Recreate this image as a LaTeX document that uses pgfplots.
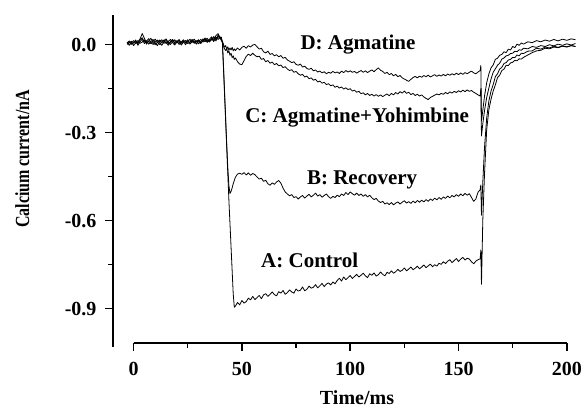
\documentclass[border=0pt]{standalone}
\usepackage{pgfplots}
\pgfplotsset{compat=1.18}
\usepackage{pgfplotstable}
\usepackage{graphicx}
\usepackage{fontspec}
\setmainfont{Liberation Serif}
\newcommand{\tickfont}{\fontsize{20}{24}\selectfont\bfseries}
\newcommand{\annfont}{\fontsize{21}{25}\selectfont\bfseries}

\pgfplotstableread{
t A B C D
-3 0.004 0.009 0.001 0.006
-2 0.010 -0.002 0.006 0.013
-1 0.001 0.007 0.012 0.003
0 0.006 0.014 -0.003 0.008
1 0.013 0.004 0.007 0.016
2 0.003 0.009 0.014 -0.002
3 0.016 0.020 0.005 0.010
4 0.024 0.038 0.009 0.019
5 0.009 0.022 0.017 0.004
6 0.014 0.005 0.002 0.012
7 0.002 0.013 0.013 0.021
8 0.010 0.003 0.022 0.008
9 0.018 0.011 0.008 0.001
10 0.006 0.019 0.000 0.010
11 -0.003 0.008 0.009 0.016
12 0.011 0.001 0.016 0.006
13 0.017 0.010 0.006 -0.002
14 0.005 0.016 0.014 0.009
15 0.009 0.004 0.020 0.015
16 -0.002 0.011 0.008 0.004
17 0.008 0.018 0.001 0.011
18 0.015 0.007 0.010 0.018
19 0.004 -0.001 0.017 0.007
20 0.009 0.010 0.006 0.014
21 0.018 0.015 0.011 0.001
22 0.006 0.005 -0.001 0.009
23 0.011 0.014 0.008 0.017
24 0.000 0.008 0.015 0.006
25 0.013 0.017 0.004 0.010
26 0.007 0.002 0.009 0.019
27 0.016 0.010 0.018 0.008
28 0.005 0.019 0.007 0.013
29 0.010 0.009 0.014 0.002
30 0.017 0.015 0.003 0.011
31 0.006 0.004 0.011 0.018
32 0.014 0.014 0.020 0.009
33 0.019 0.023 0.010 0.014
34 0.008 0.011 0.017 0.022
35 0.015 0.018 0.009 0.012
36 0.021 0.027 0.018 0.017
37 0.011 0.014 0.024 0.028
38 0.026 0.031 0.013 0.018
39 0.018 0.038 0.029 0.033
40 0.027 0.022 0.019 0.024
40.5 0.016 0.020 0.026 0.015
41 0.008 0.006 0.010 0.012
41.5 -0.080 -0.070 -0.005 0.001
42 -0.170 -0.160 -0.014 -0.008
42.5 -0.260 -0.250 -0.020 -0.003
43 -0.350 -0.340 -0.013 -0.015
43.5 -0.440 -0.420 -0.028 -0.007
44 -0.530 -0.480 -0.021 -0.019
44.5 -0.610 -0.507 -0.036 -0.011
45 -0.690 -0.500 -0.029 -0.018
45.5 -0.770 -0.488 -0.044 -0.009
46 -0.850 -0.474 -0.038 -0.021
46.5 -0.895 -0.463 -0.050 -0.014
47 -0.891 -0.452 -0.045 -0.020
48 -0.879 -0.441 -0.058 -0.011
49 -0.887 -0.438 -0.066 -0.018
50 -0.872 -0.442 -0.068 -0.009
51 -0.881 -0.436 -0.054 -0.005
52 -0.876 -0.444 -0.040 -0.012
53 -0.864 -0.437 -0.032 -0.003
54 -0.870 -0.445 -0.037 -0.008
55 -0.858 -0.439 -0.029 -0.001
56 -0.869 -0.443 -0.036 0.001
57 -0.862 -0.451 -0.041 -0.007
58 -0.855 -0.458 -0.039 -0.015
59 -0.866 -0.455 -0.050 -0.012
60 -0.853 -0.466 -0.047 -0.024
61 -0.849 -0.462 -0.058 -0.028
62 -0.858 -0.474 -0.054 -0.022
63 -0.851 -0.479 -0.063 -0.033
64 -0.843 -0.471 -0.059 -0.030
65 -0.852 -0.476 -0.068 -0.038
66 -0.856 -0.468 -0.064 -0.034
67 -0.842 -0.463 -0.072 -0.041
68 -0.847 -0.472 -0.069 -0.037
69 -0.838 -0.489 -0.078 -0.046
70 -0.851 -0.502 -0.075 -0.043
71 -0.845 -0.509 -0.083 -0.052
72 -0.836 -0.515 -0.088 -0.056
73 -0.843 -0.511 -0.085 -0.061
74 -0.847 -0.521 -0.094 -0.058
75 -0.833 -0.518 -0.091 -0.067
76 -0.840 -0.526 -0.099 -0.070
77 -0.837 -0.519 -0.104 -0.066
78 -0.826 -0.514 -0.101 -0.076
79 -0.839 -0.523 -0.110 -0.073
80 -0.834 -0.516 -0.107 -0.081
81 -0.823 -0.510 -0.116 -0.084
82 -0.830 -0.519 -0.113 -0.080
83 -0.827 -0.513 -0.121 -0.089
84 -0.818 -0.506 -0.118 -0.086
85 -0.829 -0.516 -0.127 -0.093
86 -0.822 -0.511 -0.124 -0.090
87 -0.814 -0.520 -0.131 -0.096
88 -0.825 -0.514 -0.128 -0.092
89 -0.816 -0.509 -0.136 -0.099
90 -0.812 -0.518 -0.133 -0.094
91 -0.819 -0.524 -0.140 -0.097
92 -0.809 -0.517 -0.137 -0.091
93 -0.815 -0.521 -0.145 -0.096
94 -0.804 -0.513 -0.141 -0.093
95 -0.796 -0.518 -0.148 -0.098
96 -0.806 -0.509 -0.144 -0.090
97 -0.792 -0.514 -0.151 -0.095
98 -0.801 -0.504 -0.147 -0.088
99 -0.794 -0.511 -0.153 -0.093
100 -0.787 -0.502 -0.150 -0.089
101 -0.797 -0.508 -0.158 -0.094
102 -0.790 -0.513 -0.155 -0.091
103 -0.783 -0.506 -0.162 -0.097
104 -0.792 -0.514 -0.159 -0.092
105 -0.786 -0.509 -0.167 -0.088
106 -0.779 -0.517 -0.164 -0.094
107 -0.788 -0.511 -0.171 -0.089
108 -0.794 -0.519 -0.166 -0.095
109 -0.781 -0.513 -0.173 -0.090
110 -0.786 -0.522 -0.169 -0.086
111 -0.778 -0.528 -0.175 -0.092
112 -0.789 -0.524 -0.170 -0.085
113 -0.784 -0.533 -0.176 -0.079
114 -0.775 -0.538 -0.171 -0.087
115 -0.783 -0.534 -0.177 -0.091
116 -0.788 -0.543 -0.172 -0.098
117 -0.776 -0.539 -0.168 -0.094
118 -0.780 -0.545 -0.174 -0.102
119 -0.771 -0.538 -0.166 -0.098
120 -0.779 -0.546 -0.171 -0.106
121 -0.774 -0.540 -0.163 -0.101
122 -0.766 -0.536 -0.168 -0.109
123 -0.773 -0.543 -0.160 -0.105
124 -0.769 -0.537 -0.165 -0.113
125 -0.761 -0.532 -0.158 -0.117
126 -0.771 -0.540 -0.166 -0.121
127 -0.765 -0.535 -0.162 -0.125
128 -0.758 -0.541 -0.170 -0.118
129 -0.767 -0.533 -0.166 -0.112
130 -0.762 -0.539 -0.173 -0.108
131 -0.755 -0.531 -0.169 -0.113
132 -0.764 -0.537 -0.175 -0.107
133 -0.758 -0.530 -0.171 -0.111
134 -0.751 -0.536 -0.178 -0.105
135 -0.760 -0.528 -0.183 -0.109
136 -0.754 -0.534 -0.187 -0.104
137 -0.748 -0.526 -0.180 -0.110
138 -0.757 -0.531 -0.176 -0.106
139 -0.750 -0.523 -0.172 -0.102
140 -0.755 -0.529 -0.168 -0.108
141 -0.745 -0.521 -0.171 -0.103
142 -0.749 -0.527 -0.166 -0.107
143 -0.740 -0.519 -0.169 -0.101
144 -0.746 -0.524 -0.163 -0.106
145 -0.738 -0.516 -0.167 -0.100
146 -0.733 -0.522 -0.161 -0.104
147 -0.743 -0.514 -0.165 -0.099
148 -0.736 -0.519 -0.159 -0.103
149 -0.729 -0.511 -0.163 -0.097
150 -0.739 -0.517 -0.157 -0.102
151 -0.731 -0.509 -0.161 -0.096
152 -0.725 -0.515 -0.155 -0.101
153 -0.734 -0.507 -0.160 -0.095
154 -0.728 -0.513 -0.154 -0.099
155 -0.731 -0.508 -0.159 -0.094
156 -0.740 -0.521 -0.156 -0.090
157 -0.747 -0.534 -0.162 -0.096
158 -0.738 -0.526 -0.166 -0.099
159 -0.733 -0.503 -0.171 -0.093
160 -0.730 -0.494 -0.175 -0.088
160.3 -0.700 -0.478 -0.150 -0.071
160.6 -0.817 -0.581 -0.311 -0.260
161.2 -0.600 -0.470 -0.270 -0.225
162 -0.440 -0.350 -0.225 -0.175
163 -0.290 -0.250 -0.180 -0.130
164 -0.222 -0.192 -0.148 -0.100
165 -0.186 -0.158 -0.117 -0.079
166 -0.158 -0.136 -0.094 -0.069
167 -0.137 -0.109 -0.082 -0.050
168 -0.112 -0.099 -0.070 -0.046
169 -0.104 -0.083 -0.063 -0.036
170 -0.088 -0.077 -0.049 -0.033
171 -0.083 -0.064 -0.045 -0.024
172 -0.070 -0.061 -0.038 -0.027
173 -0.071 -0.052 -0.036 -0.015
174 -0.062 -0.050 -0.030 -0.018
175 -0.060 -0.043 -0.029 -0.006
176 -0.053 -0.044 -0.022 -0.010
177 -0.055 -0.035 -0.024 0.002
178 -0.048 -0.038 -0.017 -0.002
179 -0.049 -0.029 -0.019 0.006
180 -0.043 -0.030 -0.012 0.002
182 -0.035 -0.022 -0.014 0.010
184 -0.027 -0.021 -0.006 0.007
186 -0.021 -0.012 -0.009 0.014
188 -0.019 -0.015 -0.003 0.010
190 -0.012 -0.008 -0.006 0.016
192 -0.014 -0.011 0.000 0.012
194 -0.008 -0.005 -0.004 0.018
196 -0.010 -0.009 0.002 0.013
198 -0.005 -0.004 -0.002 0.019
200 -0.008 -0.007 0.003 0.015
202 -0.003 -0.003 -0.001 0.020
204 -0.006 -0.006 0.004 0.017
}\traces

\begin{document}
\begin{tikzpicture}
\useasboundingbox (-113pt,-66pt) rectangle (471pt,343pt);
\begin{axis}[
  at={(0pt,0pt)}, anchor=south west,
  scale only axis, width=462.5pt, height=327.6pt,
  xmin=-9.5, xmax=204, ymin=-1.017, ymax=0.1,
  axis x line*=bottom, axis y line*=left,
  axis line style={draw=none},
  clip=false,
  xtick={0,50,100,150,200}, xticklabels={0,50,100,150,200},
  ytick={0,-0.3,-0.6,-0.9}, yticklabels={0.0,-0.3,-0.6,-0.9},
  minor xtick={25,75,125,175}, minor ytick={-0.15,-0.45,-0.75},
  tick align=outside, major tick length=8pt, minor tick length=5pt,
  tick style={black, line width=1.5pt},
  tick label style={font=\tickfont},
  xticklabel style={yshift=-8pt},
  yticklabel style={xshift=-5pt},
  xlabel={Time/ms},
  x label style={at={(axis description cs:0.5276,0)}, anchor=base, yshift=-62pt, font=\tickfont},
  ylabel={\scalebox{0.8}[1]{Calcium current/nA}},
  y label style={at={(axis description cs:-0.1816,0.5617)}, anchor=base, font=\tickfont},
]
\draw[line width=1.8pt] (axis cs:-9.5,-1.03) -- (axis cs:-9.5,0.1);
\draw[line width=1.8pt] (axis cs:0,-1.017) -- (axis cs:200,-1.017);
\addplot[black, line width=0.8pt, line join=round] table[x=t, y=A] {\traces};
\addplot[black, line width=0.8pt, line join=round] table[x=t, y=B] {\traces};
\addplot[black, line width=0.8pt, line join=round] table[x=t, y=C] {\traces};
\addplot[black, line width=0.8pt, line join=round] table[x=t, y=D] {\traces};
\node[font=\annfont, anchor=base] at (axis cs:103.6,-0.0147) {D: Agmatine};
\node[font=\annfont, anchor=base] at (axis cs:103.2,-0.266) {C: Agmatine+Yohimbine};
\node[font=\annfont, anchor=base] at (axis cs:105.5,-0.4758) {B: Recovery};
\node[font=\annfont, anchor=base] at (axis cs:81.3,-0.7589) {A: Control};
\end{axis}
\end{tikzpicture}
\end{document}
